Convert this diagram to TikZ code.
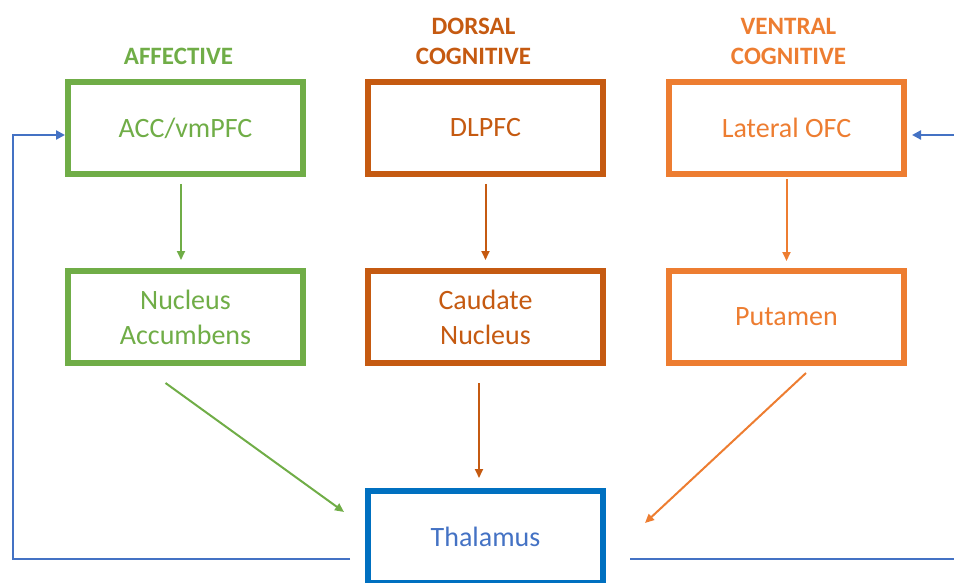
\documentclass[tikz,border=0pt]{standalone}
\usepackage{fontspec}
\setmainfont{Carlito}
\usetikzlibrary{arrows.meta, positioning, calc}
\definecolor{affgreen}{HTML}{70AD47}
\definecolor{dorsbrown}{HTML}{C55A11}
\definecolor{ventorange}{HTML}{ED7D31}
\definecolor{thalblue}{HTML}{0070C0}
\definecolor{loopblue}{HTML}{4472C4}

\begin{document}
\begin{tikzpicture}[
    x=1pt, y=-1pt,
    node distance=59pt,
    every node/.style={font=\fontsize{28}{35}\selectfont},
    region/.style={rectangle, draw=#1, text=#1, line width=6pt, minimum width=235pt, minimum height=92pt, align=center},
    hdr/.style={font=\bfseries\fontsize{25}{30}\selectfont, align=center, inner sep=0pt},
    arrow/.style={-{Triangle[length=9pt, width=8pt]}, line width=2pt},
    feedback/.style={-{Triangle[length=9pt, width=9pt]}, line width=2.5pt, loopblue}
]
    \useasboundingbox (0,0) rectangle (954,583);
    \clip (0,0) rectangle (954,583);

    \node[region=affgreen] (acc) at (185.5,128) {ACC/vmPFC};
    \node[region=dorsbrown, right=of acc] (dlpfc) {DLPFC};
    \node[region=ventorange, right=60pt of dlpfc] (lofc) {Lateral OFC};
    \node[region=affgreen, below=91pt of acc] (nacc) {Nucleus\\Accumbens};
    \node[region=dorsbrown, below=91pt of dlpfc] (caud) {Caudate\\Nucleus};
    \node[region=ventorange, below=91pt of lofc] (put) {Putamen};
    \node[region=thalblue, text=loopblue, below=121.5pt of caud] (thal) {Thalamus};

    \node[hdr, text=affgreen, above=14pt of acc, xshift=-7pt] (haff) {AFFECTIVE};
    \node[hdr, text=dorsbrown, above=14pt of dlpfc, xshift=-12pt] (hdors) {DORSAL\\COGNITIVE};
    \node[hdr, text=ventorange, above=14pt of lofc, xshift=2pt] (hvent) {VENTRAL\\COGNITIVE};

    \draw[arrow, affgreen] ([xshift=-4.5pt, yshift=-7pt]acc.south) -- ([xshift=-4.5pt, yshift=8pt]nacc.north);
    \draw[arrow, dorsbrown] ([yshift=-7pt]dlpfc.south) -- ([yshift=8pt]caud.north);
    \draw[arrow, ventorange] ([yshift=-2pt]lofc.south) -- ([yshift=7pt]put.north);
    \draw[arrow, affgreen] ([xshift=-20pt, yshift=-17pt]nacc.south) -- ([xshift=-21pt, yshift=24.5pt]thal.west);
    \draw[arrow, dorsbrown] ([xshift=-6.5pt, yshift=-17pt]caud.south) -- ([xshift=-6.5pt, yshift=9.5pt]thal.north);
    \draw[arrow, ventorange] ([xshift=19.5pt, yshift=-7pt]put.south) -- ([xshift=39pt, yshift=13.5pt]thal.east);

    \draw[feedback] ([xshift=-15pt, yshift=-22.5pt]thal.west) -- ++(-337,0) |- ([yshift=-7pt]acc.west);
    \draw[feedback] ([xshift=24pt, yshift=-22.5pt]thal.east) -- ++(340,0) |- ([xshift=5pt, yshift=-7pt]lofc.east);
\end{tikzpicture}
\end{document}
